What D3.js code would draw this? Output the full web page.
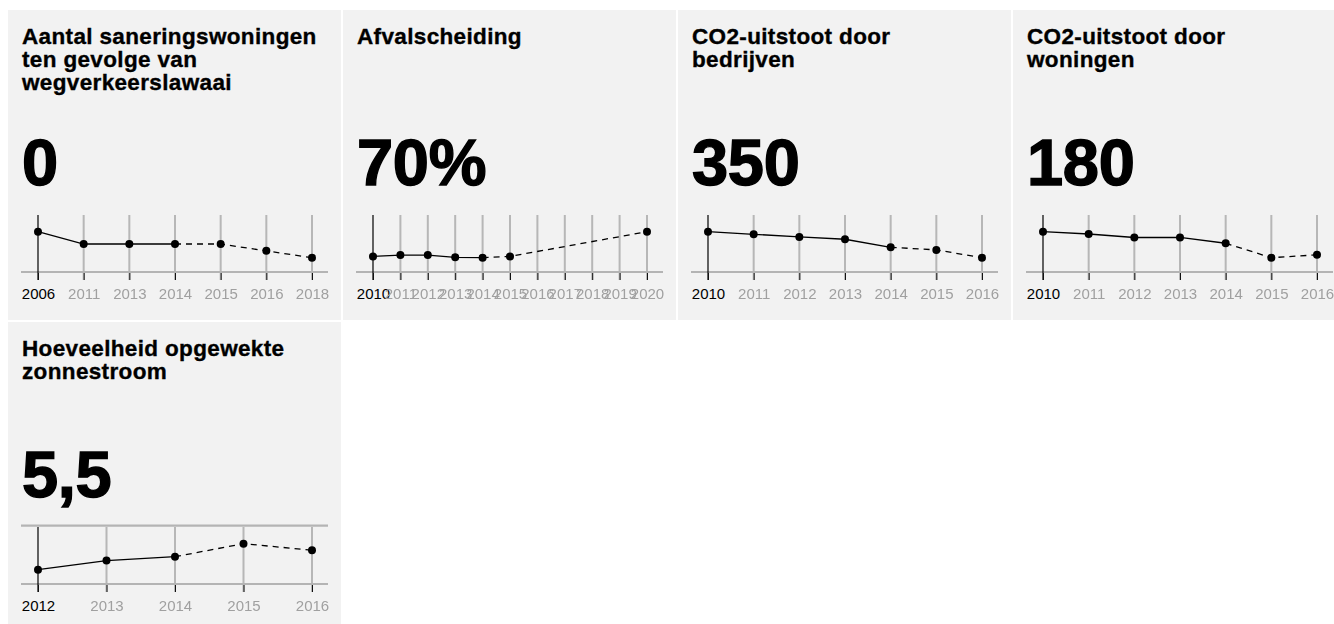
<!DOCTYPE html>
<html><head><meta charset="utf-8">
<script src="https://cdn.jsdelivr.net/npm/d3@7"></script>
<style>
html,body{margin:0;padding:0;background:#fff;overflow:hidden;}
svg{display:block;font-family:"Liberation Sans",Arial,Helvetica,sans-serif;}
</style></head><body>
<svg id="c" width="1334" height="624"></svg>
<script>
// ---- data ----
const titles = [
  ["Aantal saneringswoningen", "ten gevolge van", "wegverkeerslawaai"],
  ["Afvalscheiding"],
  ["CO2-uitstoot door", "bedrijven"],
  ["CO2-uitstoot door", "woningen"],
  ["Hoeveelheid opgewekte", "zonnestroom"]
];
const bigNumbers = ["0", "70%", "350", "180", "5,5"];

const years1 = ["2006", "2011", "2013", "2014", "2015", "2016", "2018"];
const values1 = [38, 20, 20, 20, 20, 10, 0];

const years2 = ["2010", "2011", "2012", "2013", "2014", "2015", "2016", "2017", "2018", "2019", "2020"];
const values2 = [51, 52, 52, 50.3, 50, 51, null, null, null, null, 70];

const years3 = ["2010", "2011", "2012", "2013", "2014", "2015", "2016"];
const values3 = [450, 440, 430, 421, 390, 380, 350];

const years4 = ["2010", "2011", "2012", "2013", "2014", "2015", "2016"];
const values4 = [220, 216, 210, 210, 200, 175, 180];

const years5 = ["2012", "2013", "2014", "2015", "2016"];
const values5 = [4.0, 4.7, 5.0, 6.0, 5.5];

const lastActualYear = "2014";
const topGridPanels = [false, false, false, false, true];

const panelsYears = [years1, years2, years3, years4, years5];
const panelsValues = [values1, values2, values3, values4, values5];

// ---- drawing ----
const svg = d3.select("#c");
const defs = svg.append("defs");
defs.append("filter").attr("id", "blur").attr("x", "-20%").attr("y", "-50%").attr("width", "140%").attr("height", "200%")
  .append("feGaussianBlur").attr("stdDeviation", 0.7);

const PW = 333, PH = 310;

panelsYears.forEach((years, i) => {
  const col = i % 4, row = Math.floor(i / 4);
  const g = svg.append("g").attr("transform", `translate(${8 + col * 335},${10 + row * 312})`);
  g.append("rect").attr("width", PW).attr("height", PH).attr("fill", "#f2f2f2");

  // title
  const t = g.append("text").attr("x", 14).attr("y", 34)
    .attr("font-size", 22.5).attr("font-weight", "bold").attr("fill", "#000")
    .attr("letter-spacing", 0.35)
    .attr("stroke", "#000").attr("stroke-width", 0.35);
  titles[i].forEach((line, k) => {
    t.append("tspan").attr("x", 14).attr("y", 34 + k * 23).text(line);
  });

  // big number
  g.append("text").attr("x", 14).attr("y", 175)
    .attr("font-size", 65).attr("font-weight", "bold").attr("letter-spacing", -0.3)
    .attr("fill", "#000").attr("stroke", "#000").attr("stroke-width", 1.4)
    .text(bigNumbers[i]);

  const vals = panelsValues[i];
  const data = years.map((y, k) => ({ year: y, value: vals[k] })).filter(d => d.value != null);

  const x = d3.scalePoint().domain(years).range([30, 304]);
  const y = d3.scaleLinear().domain(d3.extent(data, d => d.value)).range([247.7, 221.7]);

  const baseY = 262, topY = 205, tickBottom = 270;

  // vertical grid lines
  g.append("g").selectAll("line").data(years.slice(1)).join("line")
    .attr("x1", d => x(d)).attr("x2", d => x(d))
    .attr("y1", topY).attr("y2", tickBottom)
    .attr("stroke", "#a8a8a8").attr("stroke-width", 2).attr("stroke-opacity", 0.8);

  // horizontal lines
  g.append("line").attr("x1", 13).attr("x2", 320).attr("y1", baseY).attr("y2", baseY)
    .attr("stroke", "#b4b4b4").attr("stroke-width", 2.2);
  if (topGridPanels[i]) {
    g.append("line").attr("x1", 13).attr("x2", 320).attr("y1", topY - 1.3).attr("y2", topY - 1.3)
      .attr("stroke", "#b4b4b4").attr("stroke-width", 2.2);
  }

  // y axis line
  g.append("line").attr("x1", x(years[0])).attr("x2", x(years[0]))
    .attr("y1", topY).attr("y2", tickBottom).attr("stroke", "#000").attr("stroke-width", 1.2);

  // x axis
  const ax = g.append("g").attr("transform", `translate(0,${baseY + 1})`)
    .call(d3.axisBottom(x).tickSize(7).tickPadding(8));
  ax.select(".domain").remove();
  ax.selectAll(".tick line").attr("stroke", "#111").attr("stroke-width", 1);
  ax.selectAll(".tick text")
    .attr("font-size", 15).attr("font-family", "Liberation Sans, Arial, sans-serif")
    .attr("fill", (d, k) => k === 0 ? "#000" : "#a0a0a0")
    .attr("filter", (d, k) => k === 0 ? null : "url(#blur)");

  // lines
  const line = d3.line().x(d => x(d.year)).y(d => y(d.value));
  const lastIdx = data.findIndex(d => d.year === lastActualYear);
  const actual = data.slice(0, lastIdx + 1);
  const forecast = data.slice(lastIdx);
  g.append("path").attr("d", line(actual)).attr("fill", "none")
    .attr("stroke", "#000").attr("stroke-width", 1.3);
  g.append("path").attr("d", line(forecast)).attr("fill", "none")
    .attr("stroke", "#000").attr("stroke-width", 1.3).attr("stroke-dasharray", "6,5");

  g.append("g").selectAll("circle").data(data).join("circle")
    .attr("cx", d => x(d.year)).attr("cy", d => y(d.value)).attr("r", 4).attr("fill", "#000");
});
</script>
</body></html>
